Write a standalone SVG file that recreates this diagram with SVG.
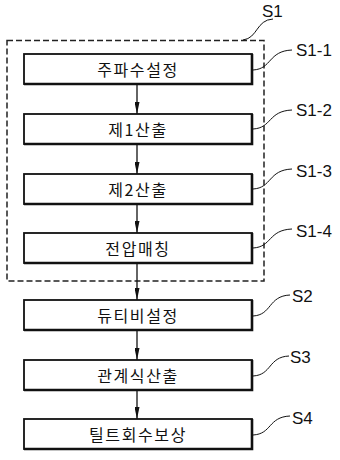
<svg xmlns="http://www.w3.org/2000/svg" width="340" height="460" viewBox="0 0 340 460">
<defs>
<marker id="ah" viewBox="0 0 12 5" refX="12" refY="2.5" markerWidth="12" markerHeight="5" markerUnits="userSpaceOnUse" orient="auto">
<path d="M0,0 L12,2.5 L0,5 Z" fill="#111"/>
</marker>
</defs>
<style>
.bg{fill:#fff}
.box{fill:#fff;stroke:#111;stroke-width:1.8}
.sh{fill:none;stroke:#111;stroke-width:2.6}
.lbl{font-family:"Noto Sans CJK KR","Noto Sans",sans-serif;font-size:16px;letter-spacing:1.6px;fill:#111;text-anchor:middle}
.tag{font-family:"Liberation Sans",Arial,sans-serif;font-size:17px;fill:#111}
.lead{fill:none;stroke:#111;stroke-width:1}
.dash{fill:none;stroke:#222;stroke-width:1.5;stroke-dasharray:6 3}
.arr{stroke:#111;stroke-width:1.3;fill:none;marker-end:url(#ah)}
</style>
<rect class="bg" x="0" y="0" width="340" height="460"/>
<g id="S1">
<rect class="dash" x="7" y="40.5" width="257" height="240.5"/>
<path class="lead" d="M243,40 C258,38 256,20 273,19"/>
<text class="tag" x="262" y="17">S1</text>
</g>
<g id="connectors">
<path class="arr" d="M137,85 V114"/>
<path class="arr" d="M137,145 V174"/>
<path class="arr" d="M137,205 V233"/>
<path class="arr" d="M137,264 V300"/>
<path class="arr" d="M137,331 V360"/>
<path class="arr" d="M137,391 V419"/>
</g>
<g id="S1-1">
<rect class="box" x="24" y="54" width="228" height="30"/>
<path class="sh" d="M252,54 V84 H24"/>
<text class="lbl" x="138" y="76">주파수설정</text>
<path class="lead" d="M253,70 C272,69 268,51 292,50"/>
<text class="tag" x="296" y="56">S1-1</text>
</g>
<g id="S1-2">
<rect class="box" x="24" y="114" width="228" height="30"/>
<path class="sh" d="M252,114 V144 H24"/>
<text class="lbl" x="138" y="136">제1산출</text>
<path class="lead" d="M253,129 C272,128 268,111 292,110"/>
<text class="tag" x="296" y="116">S1-2</text>
</g>
<g id="S1-3">
<rect class="box" x="24" y="174" width="228" height="30"/>
<path class="sh" d="M252,174 V204 H24"/>
<text class="lbl" x="138" y="196">제2산출</text>
<path class="lead" d="M253,189 C272,188 268,170 292,169"/>
<text class="tag" x="296" y="177">S1-3</text>
</g>
<g id="S1-4">
<rect class="box" x="24" y="233" width="228" height="30"/>
<path class="sh" d="M252,233 V263 H24"/>
<text class="lbl" x="138" y="255">전압매칭</text>
<path class="lead" d="M253,248 C272,247 268,230 292,229"/>
<text class="tag" x="296" y="237">S1-4</text>
</g>
<g id="S2">
<rect class="box" x="24" y="300" width="228" height="30"/>
<path class="sh" d="M252,300 V330 H24"/>
<text class="lbl" x="138" y="322">듀티비설정</text>
<path class="lead" d="M253,316 C272,315 268,296 290,295"/>
<text class="tag" x="292" y="302">S2</text>
</g>
<g id="S3">
<rect class="box" x="24" y="360" width="228" height="30"/>
<path class="sh" d="M252,360 V390 H24"/>
<text class="lbl" x="138" y="382">관계식산출</text>
<path class="lead" d="M253,376 C272,375 268,357 289,356"/>
<text class="tag" x="290" y="363">S3</text>
</g>
<g id="S4">
<rect class="box" x="24" y="419" width="228" height="30"/>
<path class="sh" d="M252,419 V449 H24"/>
<text class="lbl" x="138" y="441">틸트회수보상</text>
<path class="lead" d="M253,435 C272,434 268,417 290,416"/>
<text class="tag" x="292" y="424">S4</text>
</g>
</svg>
